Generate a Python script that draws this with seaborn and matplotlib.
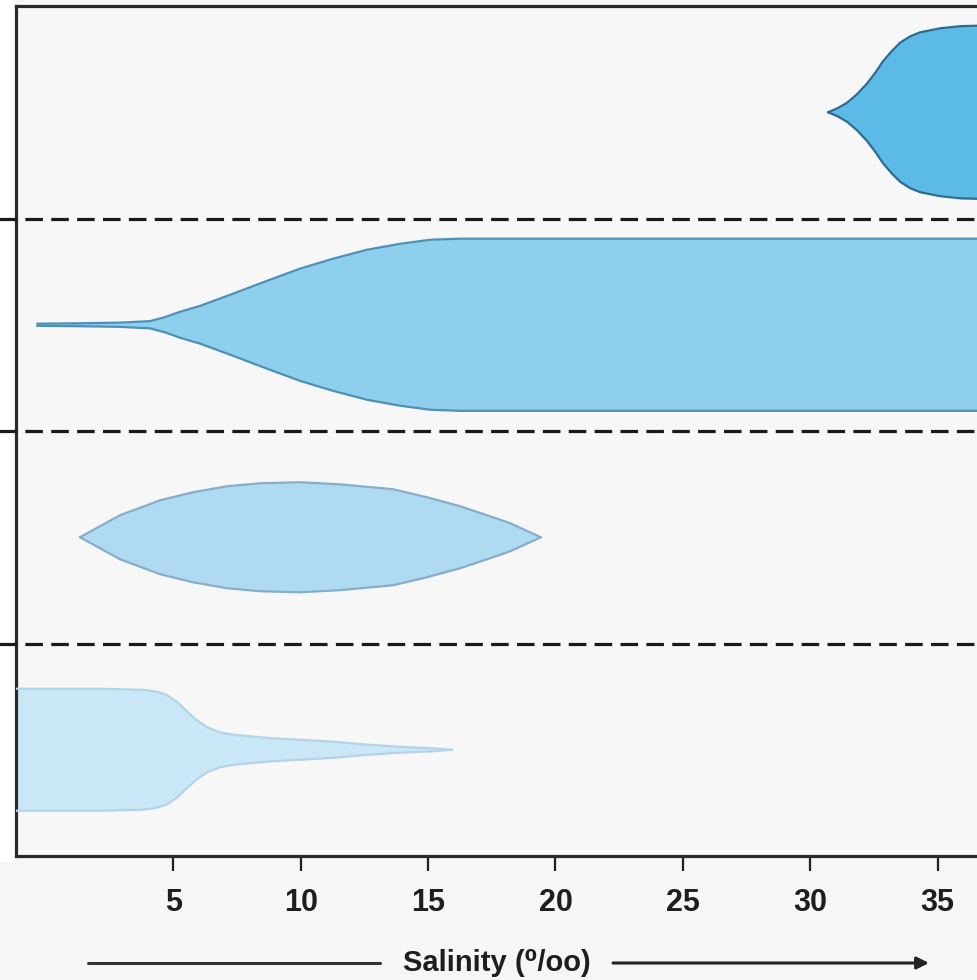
import numpy as np
import pandas as pd
import matplotlib
matplotlib.use("Agg")
import matplotlib.pyplot as plt
from matplotlib.patches import Rectangle
import seaborn as sns

# ---------------- data ----------------
row_names = ["stenohaline marine", "euryhaline marine", "brackish", "freshwater"]
row_centers = [3.5, 2.5, 1.5, 0.5]

# salinity (per mille) along each tolerance profile and half-width of the band
marine_sal = [30.70, 31.06, 31.45, 31.84, 32.23, 32.55, 32.86, 33.22, 33.53, 33.92, 34.31, 35.10, 35.89, 37.06]
marine_hw = [0.0, 0.018, 0.045, 0.085, 0.135, 0.185, 0.240, 0.290, 0.327, 0.357, 0.376, 0.395, 0.405, 0.409]

eury_sal = [-0.35, 1.33, 2.91, 4.08, 4.67, 5.26, 6.05, 7.34, 8.68, 9.97, 11.27, 12.60, 13.90, 15.08, 16.25, 37.06]
eury_hw = [0.005, 0.007, 0.010, 0.017, 0.036, 0.061, 0.089, 0.146, 0.207, 0.264, 0.311, 0.353, 0.381, 0.400, 0.405, 0.405]

brack_sal = [1.33, 2.12, 2.91, 4.48, 5.77, 7.11, 8.40, 9.97, 11.54, 13.62, 14.96, 16.25, 17.43, 18.22, 19.43]
brack_hw = [0.0, 0.052, 0.104, 0.174, 0.212, 0.240, 0.254, 0.259, 0.249, 0.226, 0.188, 0.146, 0.099, 0.066, 0.0]

fresh_sal = [-1.41, 2.12, 3.81, 4.36, 4.75, 5.14, 5.54, 5.93, 6.32, 6.83, 7.34, 8.68, 9.97, 11.27, 12.60, 13.90, 15.19, 15.94]
fresh_hw = [0.287, 0.287, 0.282, 0.273, 0.257, 0.225, 0.180, 0.138, 0.106, 0.082, 0.071, 0.056, 0.047, 0.038, 0.024, 0.014, 0.007, 0.0]

tick_values = [5, 10, 15, 20, 25, 30, 35]
tick_labels = ["5", "10", "15", "20", "25", "30", "35"]
divider_levels = [1, 2, 3]
xlabel_text = "Salinity (⁰/oo)"

fill_colors = ["#5bbbe6", "#8ecfee", "#b0daf2", "#c9e7f6"]
edge_colors = ["#2d6c92", "#4f90b8", "#86aeca", "#b4d3e6"]

profiles = [(marine_sal, marine_hw), (eury_sal, eury_hw), (brack_sal, brack_hw), (fresh_sal, fresh_hw)]

# ---------------- figure ----------------
sns.set_theme(style="white")
plt.rcParams["font.family"] = ["Liberation Sans", "DejaVu Sans"]

W, H = 978, 980
fig = plt.figure(figsize=(W / 100, H / 100), dpi=100, facecolor="#f6f6f6")
fig.patches.append(Rectangle((0, 0.12), 16 / W, 0.88, transform=fig.transFigure,
                             facecolor="white", edgecolor="none", zorder=-5))

ax_left = 16 / W
ax_bottom = (H - 856) / H
ax_height = (856 - 6) / H
ax_width = (990 - 16) / W
ax = fig.add_axes([ax_left, ax_bottom, ax_width, ax_height])
ax.set_facecolor("#f7f7f7")

# long table for outlines
rows = []
for name, c, (s, hw) in zip(row_names, row_centers, profiles):
    for xi, h in zip(s, hw):
        rows.append({"row": name, "edge": "upper", "sal": xi, "y": c + h})
        rows.append({"row": name, "edge": "lower", "sal": xi, "y": c - h})
df = pd.DataFrame(rows)

for name, c, (s, hw), fc, ec in zip(row_names, row_centers, profiles, fill_colors, edge_colors):
    s = np.asarray(s)
    hw = np.asarray(hw)
    ax.fill_between(s, c - hw, c + hw, color=fc, linewidth=0, zorder=2)
    sub = df[df["row"] == name]
    sns.lineplot(data=sub, x="sal", y="y", units="edge", estimator=None, sort=False,
                 color=ec, linewidth=1.6, ax=ax, legend=False, zorder=3)

for lvl in divider_levels:
    ax.axhline(lvl, xmin=-0.02, xmax=1.0, color="#1a1a1a", linewidth=2.3,
               linestyle=(0, (5.5, 2.6)), clip_on=False, zorder=4)

ax.set_xlim(-1.18, 37.06)
ax.set_ylim(0, 4)
ax.set_yticks([])
ax.set_xticks(tick_values)
ax.set_xticklabels(tick_labels)
ax.set_xlabel("")
ax.set_ylabel("")
ax.tick_params(axis="x", direction="out", length=11, width=1.6, color="#222222",
               pad=12, labelsize=22, labelcolor="#1e1e1e", bottom=True)
for lab in ax.get_xticklabels():
    lab.set_fontweight("bold")

for side in ["left", "top", "bottom"]:
    ax.spines[side].set_visible(True)
    ax.spines[side].set_color("#2a2a2a")
    ax.spines[side].set_linewidth(2.3)
ax.spines["right"].set_visible(False)

# axis title with arrow lines
ly = 1 - 963 / H
fig.text(497 / W, ly, xlabel_text, ha="center", va="center", fontsize=21,
         fontweight="bold", color="#1e1e1e", family=["Liberation Sans", "DejaVu Sans"])
fig.add_artist(plt.Line2D([88 / W, 380 / W], [ly, ly], transform=fig.transFigure,
                          color="#333333", linewidth=2.2))
ax.annotate("", xy=(929 / W, ly), xytext=(613 / W, ly), xycoords="figure fraction",
            textcoords="figure fraction",
            arrowprops=dict(arrowstyle="-|>", color="#222222", lw=2.2,
                            mutation_scale=18, shrinkA=0, shrinkB=0))

fig.savefig("out.png", dpi=100, facecolor=fig.get_facecolor())
